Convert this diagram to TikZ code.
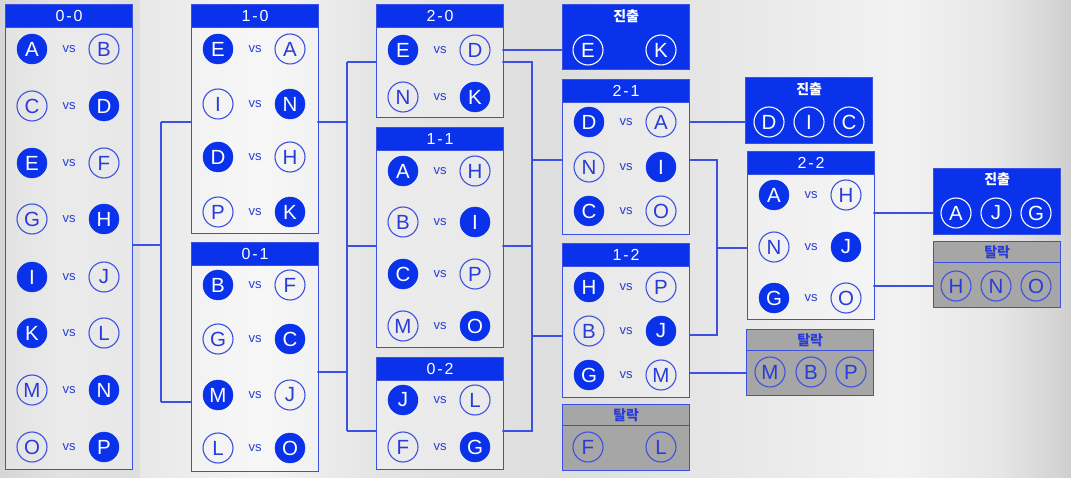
\documentclass[tikz,border=0pt]{standalone}
\usepackage{fontspec}
\setmainfont{Liberation Sans}
\newfontfamily\hf{Liberation Sans}[LetterSpace=12]
\newfontfamily\kr{Noto Sans CJK KR}
\usetikzlibrary{calc}
\definecolor{bl}{RGB}{10,50,235}
\definecolor{ln}{RGB}{60,80,225}
\definecolor{tx}{RGB}{40,60,215}
\definecolor{gbox}{RGB}{166,166,166}
\newcommand\matchbox[5]{%
  \node[boxbody, minimum height=#4] (#1) at (#2,#3) {};
  \node[hdr] (#1h) at (#1.north west) {#5};}
\newcommand\mrow[7]{%
  \node[#4] (#1#2a) at ($(#1.north west)+(27,#3)$) {#5};
  \node[vsx] (#1#2v) at ($(#1.north west)+(64,#3)$) {vs};
  \node[#6] (#1#2b) at ($(#1.north west)+(99,#3)$) {#7};}
\begin{document}
\begin{tikzpicture}[x=1pt,y=-1pt,
  boxbody/.style={draw=ln, line width=1.3pt, fill=white, fill opacity=0.3, text opacity=1,
    anchor=north west, minimum width=127, inner sep=0},
  hdr/.style={draw=ln, line width=1.3pt, fill=bl, text=white, anchor=north west,
    minimum width=127, minimum height=23, inner sep=0, font=\hf\fontsize{16}{16}\selectfont},
  adv/.style={draw=ln, line width=1.3pt, fill=bl, anchor=north west, minimum width=127, inner sep=0},
  advt/.style={text=white, font=\kr\bfseries\fontsize{14}{14}\selectfont, inner sep=0},
  elim/.style={draw=ln, line width=1.3pt, fill=gbox, anchor=north west, minimum width=127,
    minimum height=66, inner sep=0},
  elimh/.style={draw=ln, line width=1.3pt, fill=gbox, anchor=north west, minimum width=127,
    minimum height=21, inner sep=0, text=tx, font=\kr\bfseries\fontsize{14}{14}\selectfont},
  W/.style={circle, fill=bl, draw=bl, minimum size=30, inner sep=0, text=white,
    font=\fontsize{20.5}{20}\selectfont},
  L/.style={circle, draw=ln, line width=1.1pt, minimum size=30, inner sep=0, text=tx,
    font=\fontsize{20.5}{20}\selectfont},
  Q/.style={circle, draw=white, line width=1.1pt, minimum size=30, inner sep=0, text=white,
    font=\fontsize{20.5}{20}\selectfont},
  vsx/.style={text=tx, inner sep=0, font=\fontsize{13}{13}\selectfont},
  conn/.style={draw=ln, line width=1.3pt}
]
\useasboundingbox (0,0) rectangle (1071,478);
% background
\shade[left color={rgb,255:red,214;green,214;blue,214}, right color={rgb,255:red,226;green,226;blue,226}] (0,0) rectangle (60,478);
\shade[left color={rgb,255:red,226;green,226;blue,226}, right color={rgb,255:red,222;green,222;blue,222}] (60,0) rectangle (140,478);
\shade[left color={rgb,255:red,232;green,232;blue,232}, right color={rgb,255:red,244;green,244;blue,244}] (140,0) rectangle (260,478);
\shade[left color={rgb,255:red,244;green,244;blue,244}, right color={rgb,255:red,228;green,228;blue,228}] (260,0) rectangle (380,478);
\shade[left color={rgb,255:red,228;green,228;blue,228}, right color={rgb,255:red,222;green,222;blue,222}] (380,0) rectangle (560,478);
\shade[left color={rgb,255:red,222;green,222;blue,222}, right color={rgb,255:red,232;green,232;blue,232}] (560,0) rectangle (740,478);
\shade[left color={rgb,255:red,232;green,232;blue,232}, right color={rgb,255:red,242;green,242;blue,242}] (740,0) rectangle (900,478);
\shade[left color={rgb,255:red,242;green,242;blue,242}, right color={rgb,255:red,230;green,230;blue,230}] (900,0) rectangle (1000,478);
\shade[left color={rgb,255:red,230;green,230;blue,230}, right color={rgb,255:red,207;green,207;blue,207}] (1000,0) rectangle (1071,478);

% ---- connector coordinates ----
\coordinate (o00) at (132,245); \coordinate (j1) at (161,245);
\coordinate (j1a) at (161,122); \coordinate (i10) at (191,122);
\coordinate (j1b) at (161,402); \coordinate (i01) at (191,402);
\coordinate (o10) at (317,122); \coordinate (j2) at (347,122);
\coordinate (j2a) at (347,62); \coordinate (i20) at (376,62);
\coordinate (j2b) at (347,246); \coordinate (i11) at (376,246);
\coordinate (o01) at (317,372); \coordinate (j3) at (347,372);
\coordinate (j3a) at (347,431); \coordinate (i02) at (376,431);
\coordinate (o20a) at (502,50); \coordinate (ia1) at (562,50);
\coordinate (o20b) at (502,62); \coordinate (j4) at (532,62);
\coordinate (j4a) at (532,160); \coordinate (i21) at (562,160);
\coordinate (o11) at (502,246); \coordinate (j5) at (532,246);
\coordinate (j5a) at (532,336); \coordinate (i12) at (562,336);
\coordinate (o02) at (502,431); \coordinate (j6) at (532,431);
\coordinate (o21a) at (689,122); \coordinate (ia2) at (745,122);
\coordinate (o21b) at (689,160); \coordinate (j7) at (717,160);
\coordinate (j7a) at (717,248); \coordinate (i22) at (747,248);
\coordinate (o12a) at (689,335); \coordinate (j8) at (717,335);
\coordinate (o12b) at (689,373); \coordinate (ie2) at (746,373);
\coordinate (o22a) at (873,213); \coordinate (ia3) at (933,213);
\coordinate (o22b) at (873,286); \coordinate (ie3) at (933,286);

\draw[conn] (o00) -- (j1); \draw[conn] (j1a) -- (j1b);
\draw[conn] (j1a) -- (i10); \draw[conn] (j1b) -- (i01);
\draw[conn] (o10) -- (j2); \draw[conn] (j2a) -- (j2b);
\draw[conn] (j2a) -- (i20); \draw[conn] (j2b) -- (i11);
\draw[conn] (o01) -- (j3); \draw[conn] (j2b) -- (j3a); \draw[conn] (j3a) -- (i02);
\draw[conn] (o20a) -- (ia1);
\draw[conn] (o20b) -- (j4) -- (j4a) -- (i21);
\draw[conn] (o11) -- (j5); \draw[conn] (j4a) -- (j5a) -- (i12);
\draw[conn] (o02) -- (j6) -- (j5a);
\draw[conn] (o21a) -- (ia2);
\draw[conn] (o21b) -- (j7) -- (j7a) -- (i22);
\draw[conn] (o12a) -- (j8) -- (j7a);
\draw[conn] (o12b) -- (ie2);
\draw[conn] (o22a) -- (ia3);
\draw[conn] (o22b) -- (ie3);

% ---- match boxes ----
\matchbox{b00}{5}{4}{465}{0-0}
\mrow{b00}{1}{45}{W}{A}{L}{B}
\mrow{b00}{2}{102}{L}{C}{W}{D}
\mrow{b00}{3}{159}{W}{E}{L}{F}
\mrow{b00}{4}{215}{L}{G}{W}{H}
\mrow{b00}{5}{273}{W}{I}{L}{J}
\mrow{b00}{6}{329}{W}{K}{L}{L}
\mrow{b00}{7}{386}{L}{M}{W}{N}
\mrow{b00}{8}{443}{L}{O}{W}{P}

\matchbox{b10}{191}{4}{229}{1-0}
\mrow{b10}{1}{45}{W}{E}{L}{A}
\mrow{b10}{2}{100}{L}{I}{W}{N}
\mrow{b10}{3}{153}{W}{D}{L}{H}
\mrow{b10}{4}{208}{L}{P}{W}{K}

\matchbox{b01}{191}{242}{229}{0-1}
\mrow{b01}{1}{43}{W}{B}{L}{F}
\mrow{b01}{2}{97}{L}{G}{W}{C}
\mrow{b01}{3}{153}{W}{M}{L}{J}
\mrow{b01}{4}{206}{L}{L}{W}{O}

\matchbox{b20}{376}{4}{113}{2-0}
\mrow{b20}{1}{46}{W}{E}{L}{D}
\mrow{b20}{2}{93}{L}{N}{W}{K}

\matchbox{b11}{376}{127}{220}{1-1}
\mrow{b11}{1}{44}{W}{A}{L}{H}
\mrow{b11}{2}{95}{L}{B}{W}{I}
\mrow{b11}{3}{147}{W}{C}{L}{P}
\mrow{b11}{4}{199}{L}{M}{W}{O}

\matchbox{b02}{376}{357}{112}{0-2}
\mrow{b02}{1}{43}{W}{J}{L}{L}
\mrow{b02}{2}{90}{L}{F}{W}{G}

\matchbox{b21}{562}{79}{155}{2-1}
\mrow{b21}{1}{43}{W}{D}{L}{A}
\mrow{b21}{2}{88}{L}{N}{W}{I}
\mrow{b21}{3}{132}{W}{C}{L}{O}

\matchbox{b12}{562}{243}{154}{1-2}
\mrow{b12}{1}{44}{W}{H}{L}{P}
\mrow{b12}{2}{88}{L}{B}{W}{J}
\mrow{b12}{3}{132}{W}{G}{L}{M}

\matchbox{b22}{747}{151}{168}{2-2}
\mrow{b22}{1}{44}{W}{A}{L}{H}
\mrow{b22}{2}{96}{L}{N}{W}{J}
\mrow{b22}{3}{147}{W}{G}{L}{O}

% ---- advance boxes ----
\node[adv, minimum height=65] (a1) at (562,4) {};
\node[advt] (a1t) at ($(a1.north)+(0,12)$) {진출};
\node[Q] (a1x) at ($(a1.north west)+(26,46)$) {E};
\node[Q] (a1y) at ($(a1.north west)+(99,46)$) {K};

\node[adv, minimum height=66] (a2) at (745,77) {};
\node[advt] (a2t) at ($(a2.north)+(0,12)$) {진출};
\node[Q] (a2x) at ($(a2.north west)+(24,45)$) {D};
\node[Q] (a2y) at ($(a2.north west)+(64,45)$) {I};
\node[Q] (a2z) at ($(a2.north west)+(104,45)$) {C};

\node[adv, minimum height=66] (a3) at (933,168) {};
\node[advt] (a3t) at ($(a3.north)+(0,11)$) {진출};
\node[Q] (a3x) at ($(a3.north west)+(23,45)$) {A};
\node[Q] (a3y) at ($(a3.north west)+(63,45)$) {J};
\node[Q] (a3z) at ($(a3.north west)+(103,45)$) {G};

% ---- eliminated boxes ----
\node[elim] (e1) at (562,404) {};
\node[elimh] (e1h) at (e1.north west) {탈락};
\node[L] (e1x) at ($(e1.north west)+(26,43)$) {F};
\node[L] (e1y) at ($(e1.north west)+(99,43)$) {L};

\node[elim] (e2) at (746,329) {};
\node[elimh] (e2h) at (e2.north west) {탈락};
\node[L] (e2x) at ($(e2.north west)+(24,43)$) {M};
\node[L] (e2y) at ($(e2.north west)+(65,43)$) {B};
\node[L] (e2z) at ($(e2.north west)+(105,43)$) {P};

\node[elim] (e3) at (933,241) {};
\node[elimh] (e3h) at (e3.north west) {탈락};
\node[L] (e3x) at ($(e3.north west)+(23,45)$) {H};
\node[L] (e3y) at ($(e3.north west)+(63,45)$) {N};
\node[L] (e3z) at ($(e3.north west)+(103,45)$) {O};
\end{tikzpicture}
\end{document}
